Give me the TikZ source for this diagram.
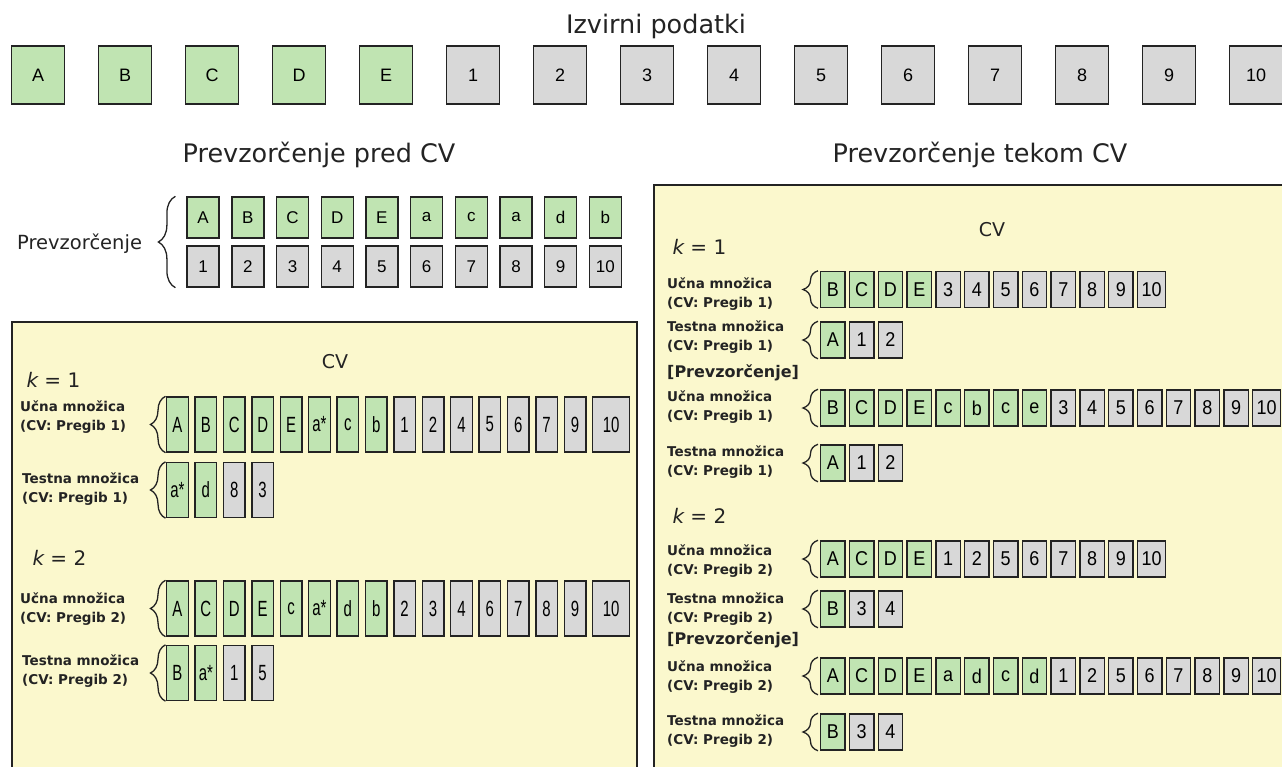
\documentclass[tikz,border=0pt]{standalone}
\usepackage{fontspec}
\setmainfont{DejaVu Sans}
\newfontfamily\celica{Liberation Sans}
\newfontfamily\celicaozka[FakeStretch=0.68]{Liberation Sans}
\newfontfamily\celicasrednja[FakeStretch=0.9]{Liberation Sans}
\usepackage{xcolor}
\usetikzlibrary{positioning, decorations.pathreplacing}

% vrsta celic: ime, zacetek, slog vrste, seznam oznaka/slog
\newcommand{\vrsta}[4]{%
  \foreach \oz/\sl [count=\i] in {#4} {
    \ifnum\i=1
      \node[#3, style=\sl, anchor=west] (#1-1) at (#2) {\oz};
    \else
      \pgfmathtruncatemacro{\j}{\i-1}
      \node[#3, style=\sl, right=of #1-\j] (#1-\i) {\oz};
    \fi
  }%
}

\begin{document}
\begin{tikzpicture}[x=1pt, y=1pt]

	\definecolor{moj_zelen}{RGB}{192,228,178}
\definecolor{moj_siv}{RGB}{216,216,216}
\definecolor{moj_rumen}{RGB}{251,248,205}
\definecolor{moj_temen}{RGB}{35,35,35}

\tikzstyle{zel} = [rectangle, draw=moj_temen, fill=moj_zelen, line width=1.4pt, inner sep=0pt]
\tikzstyle{siv} = [rectangle, draw=moj_temen, fill=moj_siv, line width=1.4pt, inner sep=0pt]
\tikzstyle{sivL} = [siv, minimum width=37pt]
\tikzstyle{sivR} = [siv, minimum width=28pt]
\tikzstyle{vrh} = [minimum width=53pt, minimum height=58pt, node distance=32.6pt, font=\celica\fontsize{18}{18}\selectfont]
\tikzstyle{pred} = [minimum width=32pt, minimum height=41pt, node distance=11.3pt, font=\celica\fontsize{17}{17}\selectfont]
\tikzstyle{levo} = [minimum width=21.5pt, minimum height=55pt, node distance=5.5pt, font=\celicaozka\fontsize{22}{22}\selectfont]
\tikzstyle{desno} = [minimum width=24.3pt, minimum height=36pt, node distance=3.1pt, font=\celicasrednja\fontsize{20}{20}\selectfont]
\tikzstyle{naslov} = [font=\fontsize{25.5}{30}\selectfont, text=moj_temen]
\tikzstyle{cv} = [font=\fontsize{19}{22}\selectfont, text=moj_temen]
\tikzstyle{oznaka} = [anchor=west, align=left, font=\bfseries\fontsize{13.5}{18.5}\selectfont, text=moj_temen, inner sep=0pt]
\tikzstyle{zavit} = [draw=moj_temen, line width=1.3pt, decorate, decoration={brace, amplitude=15pt}]
\tikzstyle{okvir} = [draw=moj_temen, fill=moj_rumen, line width=2.5pt]

	\useasboundingbox (0,0) rectangle (1282,-766);

	% izvirni podatki
	\node [naslov] (izvirni) at (656,-26) {Izvirni podatki};
	\vrsta{iz}{11,-75}{vrh}{A/zel, B/zel, C/zel, D/zel, E/zel, 1/siv, 2/siv, 3/siv, 4/siv, 5/siv, 6/siv, 7/siv, 8/siv, 9/siv, 10/siv}

	\node [naslov] (predcv) at (319,-155) {Prevzorčenje pred CV};
	\node [naslov] (tekomcv) at (980,-155) {Prevzorčenje tekom CV};

	% prevzorcenje pred CV
	\node [anchor=west, font=\fontsize{19.5}{22}\selectfont, text=moj_temen, inner sep=0pt] (prevz) at (17,-244) {Prevzorčenje};
	\vrsta{p1}{186.4,-217.5}{pred}{A/zel, B/zel, C/zel, D/zel, E/zel, a/zel, c/zel, a/zel, d/zel, b/zel}
	\vrsta{p2}{186.4,-266.5}{pred}{1/siv, 2/siv, 3/siv, 4/siv, 5/siv, 6/siv, 7/siv, 8/siv, 9/siv, 10/siv}
	\draw [zavit, decoration={amplitude=17pt}] ([xshift=-11pt]p2-1.south west) -- ([xshift=-11pt]p1-1.north west);

	% levi okvir
	\path [okvir] (12,-322) rectangle (637,-790);
	\node [cv] (cvL) at (335,-362) {CV};
	\node [cv, anchor=west, font=\fontsize{20}{22}\selectfont] (kL1) at (23,-380) {{\itshape k} = 1};

	\node [oznaka] (oLu1) at (20,-417) {Učna množica\\(CV: Pregib 1)};
	\vrsta{lu1}{166,-424.5}{levo}{A/zel, B/zel, C/zel, D/zel, E/zel, a*/zel, c/zel, b/zel, 1/siv, 2/siv, 4/siv, 5/siv, 6/siv, 7/siv, 9/siv, 10/sivL}
	\draw [zavit] ([xshift=-0.5pt]lu1-1.south west) -- ([xshift=-0.5pt]lu1-1.north west);

	\node [oznaka] (oLt1) at (22,-489) {Testna množica\\(CV: Pregib 1)};
	\vrsta{lt1}{166,-490}{levo}{a*/zel, d/zel, 8/siv, 3/siv}
	\draw [zavit] ([xshift=-0.5pt]lt1-1.south west) -- ([xshift=-0.5pt]lt1-1.north west);

	\node [cv, anchor=west, font=\fontsize{20}{22}\selectfont] (kL2) at (29,-558) {{\itshape k} = 2};

	\node [oznaka] (oLu2) at (20,-609) {Učna množica\\(CV: Pregib 2)};
	\vrsta{lu2}{166,-608.5}{levo}{A/zel, C/zel, D/zel, E/zel, c/zel, a*/zel, d/zel, b/zel, 2/siv, 3/siv, 4/siv, 6/siv, 7/siv, 8/siv, 9/siv, 10/sivL}
	\draw [zavit] ([xshift=-0.5pt]lu2-1.south west) -- ([xshift=-0.5pt]lu2-1.north west);

	\node [oznaka] (oLt2) at (22,-671) {Testna množica\\(CV: Pregib 2)};
	\vrsta{lt2}{166,-673}{levo}{B/zel, a*/zel, 1/siv, 5/siv}
	\draw [zavit] ([xshift=-0.5pt]lt2-1.south west) -- ([xshift=-0.5pt]lt2-1.north west);

	% desni okvir
	\path [okvir] (654,-185) rectangle (1300,-790);
	\node [cv] (cvR) at (992,-230) {CV};
	\node [cv, anchor=west, font=\fontsize{20}{22}\selectfont] (kR1) at (669,-247) {{\itshape k} = 1};

	\node [oznaka] (oRu1) at (667,-294) {Učna množica\\(CV: Pregib 1)};
	\vrsta{ru1}{820,-289.5}{desno}{B/zel, C/zel, D/zel, E/zel, 3/siv, 4/siv, 5/siv, 6/siv, 7/siv, 8/siv, 9/siv, 10/sivR}
	\draw [zavit] ([xshift=-2pt]ru1-1.south west) -- ([xshift=-2pt]ru1-1.north west);

	\node [oznaka] (oRt1) at (667,-337) {Testna množica\\(CV: Pregib 1)};
	\vrsta{rt1}{820,-340}{desno}{A/zel, 1/siv, 2/siv}
	\draw [zavit] ([xshift=-2pt]rt1-1.south west) -- ([xshift=-2pt]rt1-1.north west);

	\node [oznaka, font=\bfseries\fontsize{16}{18}\selectfont] (pR1) at (667,-373) {[Prevzorčenje]};

	\node [oznaka] (oRu1p) at (667,-407) {Učna množica\\(CV: Pregib 1)};
	\vrsta{ru1p}{820,-408}{desno}{B/zel, C/zel, D/zel, E/zel, c/zel, b/zel, c/zel, e/zel, 3/siv, 4/siv, 5/siv, 6/siv, 7/siv, 8/siv, 9/siv, 10/sivR}
	\draw [zavit] ([xshift=-2pt]ru1p-1.south west) -- ([xshift=-2pt]ru1p-1.north west);

	\node [oznaka] (oRt1p) at (667,-462) {Testna množica\\(CV: Pregib 1)};
	\vrsta{rt1p}{820,-463}{desno}{A/zel, 1/siv, 2/siv}
	\draw [zavit] ([xshift=-2pt]rt1p-1.south west) -- ([xshift=-2pt]rt1p-1.north west);

	\node [cv, anchor=west, font=\fontsize{20}{22}\selectfont] (kR2) at (669,-516) {{\itshape k} = 2};

	\node [oznaka] (oRu2) at (667,-561) {Učna množica\\(CV: Pregib 2)};
	\vrsta{ru2}{820,-559}{desno}{A/zel, C/zel, D/zel, E/zel, 1/siv, 2/siv, 5/siv, 6/siv, 7/siv, 8/siv, 9/siv, 10/sivR}
	\draw [zavit] ([xshift=-2pt]ru2-1.south west) -- ([xshift=-2pt]ru2-1.north west);

	\node [oznaka] (oRt2) at (667,-609) {Testna množica\\(CV: Pregib 2)};
	\vrsta{rt2}{820,-609}{desno}{B/zel, 3/siv, 4/siv}
	\draw [zavit] ([xshift=-2pt]rt2-1.south west) -- ([xshift=-2pt]rt2-1.north west);

	\node [oznaka, font=\bfseries\fontsize{16}{18}\selectfont] (pR2) at (667,-640) {[Prevzorčenje]};

	\node [oznaka] (oRu2p) at (667,-677) {Učna množica\\(CV: Pregib 2)};
	\vrsta{ru2p}{820,-676}{desno}{A/zel, C/zel, D/zel, E/zel, a/zel, d/zel, c/zel, d/zel, 1/siv, 2/siv, 5/siv, 6/siv, 7/siv, 8/siv, 9/siv, 10/sivR}
	\draw [zavit] ([xshift=-2pt]ru2p-1.south west) -- ([xshift=-2pt]ru2p-1.north west);

	\node [oznaka] (oRt2p) at (667,-731) {Testna množica\\(CV: Pregib 2)};
	\vrsta{rt2p}{820,-732}{desno}{B/zel, 3/siv, 4/siv}
	\draw [zavit] ([xshift=-2pt]rt2p-1.south west) -- ([xshift=-2pt]rt2p-1.north west);

\end{tikzpicture}
\end{document}
